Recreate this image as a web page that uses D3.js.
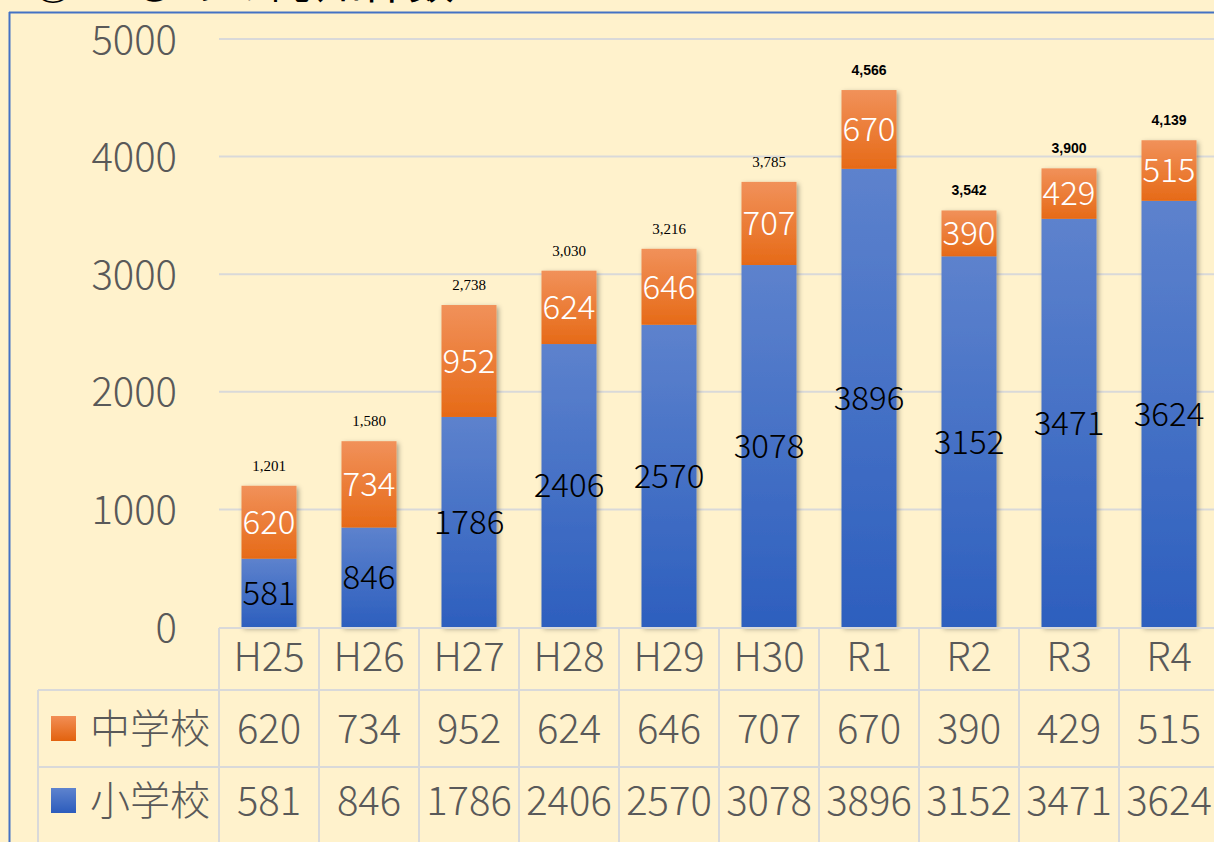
<!DOCTYPE html>
<html><head><meta charset="utf-8">
<script src="https://cdn.jsdelivr.net/npm/d3@7"></script>
<style>
html,body{margin:0;padding:0;background:#FFF2CC;}
svg{display:block;}
</style></head>
<body>
<script>
const categories = ["H25","H26","H27","H28","H29","H30","R1","R2","R3","R4"];
const juniorHigh = [620,734,952,624,646,707,670,390,429,515];   // 中学校
const elementary = [581,846,1786,2406,2570,3078,3896,3152,3471,3624]; // 小学校
const totals = [1201,1580,2738,3030,3216,3785,4566,3542,3900,4139];
const yTicks = [0,1000,2000,3000,4000,5000];
const seriesNames = ["中学校","小学校"];
const titleText = "① いじめの認知件数";

const W = 1214, H = 842;
const font = "'Noto Sans CJK JP','Noto Sans',sans-serif";
const FW = 300;
const svg = d3.select("body").append("svg").attr("width",W).attr("height",H);
const defs = svg.append("defs");
function grad(id, a, b){
  const g = defs.append("linearGradient").attr("id",id).attr("x1",0).attr("y1",0).attr("x2",0).attr("y2",1);
  g.append("stop").attr("offset","0%").attr("stop-color",a);
  g.append("stop").attr("offset","100%").attr("stop-color",b);
}
grad("gO","#F1915A","#E66A17");
grad("gB","#5D82CD","#2D5FBE");
grad("gOl","#F28E55","#E2620E");
grad("gBl","#5E83CE","#2C5CBC");
const sh = defs.append("filter").attr("id","sh").attr("x","-20%").attr("y","-10%").attr("width","150%").attr("height","130%");
sh.append("feDropShadow").attr("dx",2).attr("dy",2).attr("stdDeviation",2.5).attr("flood-color","#000").attr("flood-opacity",0.35);

// title (cut off at the top, as in the source image)
svg.append("text").attr("x",30).attr("y",-2).attr("font-family",font).attr("font-size",46)
  .attr("fill","#000").text(titleText);
svg.append("rect").attr("x",0).attr("y",12).attr("width",W).attr("height",H).attr("fill","#FFF2CC");
// frame
svg.append("line").attr("x1",9).attr("x2",W).attr("y1",12.5).attr("y2",12.5).attr("stroke","#4472C4").attr("stroke-width",2);
svg.append("line").attr("x1",9.5).attr("x2",9.5).attr("y1",12).attr("y2",H).attr("stroke","#4472C4").attr("stroke-width",2);

const x = d3.scaleBand().domain(categories).range([219,1219]).padding(0);
const y = d3.scaleLinear().domain([0,5000]).range([627,39]);
const barW = x.bandwidth()*0.55;

// gridlines
svg.append("g").selectAll("line").data(yTicks.filter(d=>d>0)).join("line")
  .attr("x1",219).attr("x2",W).attr("y1",d=>y(d)).attr("y2",d=>y(d))
  .attr("stroke","#D9D9D9").attr("stroke-width",2);

// y axis labels
const yAxis = d3.axisLeft(y).tickValues(yTicks).tickSize(0).tickPadding(0).tickFormat(d3.format("d"));
const yg = svg.append("g").attr("transform","translate(177,0)").call(yAxis);
yg.select(".domain").remove();
yg.selectAll("text").attr("font-family",font).attr("font-weight",FW).attr("font-size",40).attr("fill","#595959").attr("dy","0.35em");

// bars
const bars = svg.append("g");
categories.forEach((c,i)=>{
  const x0 = x(c)+(x.bandwidth()-barW)/2;
  const e = elementary[i], j = juniorHigh[i];
  const g = bars.append("g").attr("filter","url(#sh)");
  g.append("rect").attr("x",x0).attr("width",barW).attr("y",y(e)).attr("height",y(0)-y(e)).attr("fill","url(#gB)");
  g.append("rect").attr("x",x0).attr("width",barW).attr("y",y(e+j)).attr("height",y(e)-y(e+j)).attr("fill","url(#gO)");
});
// segment labels
const labels = svg.append("g").attr("font-family",font).attr("text-anchor","middle");
categories.forEach((c,i)=>{
  const cx = x(c)+x.bandwidth()/2;
  const e = elementary[i], j = juniorHigh[i];
  labels.append("text").attr("x",cx).attr("y",(y(0)+y(e))/2).attr("dy","0.36em")
    .attr("font-size",33).attr("font-weight",FW).attr("fill","#000").text(e);
  labels.append("text").attr("x",cx).attr("y",(y(e)+y(e+j))/2).attr("dy","0.36em")
    .attr("font-size",33).attr("font-weight",FW).attr("fill","#fff").text(j);
  const serif = i < 6;
  labels.append("text").attr("x",cx).attr("y",y(totals[i])-15)
    .attr("font-family", serif ? "'Liberation Serif','DejaVu Serif',serif" : "'Liberation Sans',Arial,sans-serif")
    .attr("font-weight", serif ? "normal" : "bold")
    .attr("font-size", serif ? 15 : 14).attr("fill","#000").text(d3.format(",")(totals[i]));
});

// data table
const tbl = svg.append("g").attr("stroke","#D9D9D9").attr("stroke-width",2);
const rowY = [627, 690, 767, H];
tbl.append("line").attr("x1",219).attr("x2",W).attr("y1",rowY[0]+1).attr("y2",rowY[0]+1);
tbl.append("line").attr("x1",38).attr("x2",W).attr("y1",rowY[1]).attr("y2",rowY[1]);
tbl.append("line").attr("x1",38).attr("x2",W).attr("y1",rowY[2]).attr("y2",rowY[2]);
tbl.append("line").attr("x1",38).attr("x2",38).attr("y1",rowY[1]).attr("y2",H);
tbl.selectAll(".v").data(categories).join("line").attr("class","v")
  .attr("x1",d=>x(d)).attr("x2",d=>x(d)).attr("y1",rowY[0]+1).attr("y2",H);

const xAxis = d3.axisBottom(x).tickSize(0).tickPadding(0);
const xg = svg.append("g").attr("transform",`translate(0,${(rowY[0]+rowY[1])/2-2})`).call(xAxis);
xg.select(".domain").remove();
xg.selectAll("text").attr("font-family",font).attr("font-weight",FW).attr("font-size",40).attr("fill","#595959").attr("dy","0.36em");

const rows = [juniorHigh, elementary];
const fills = ["url(#gOl)","url(#gBl)"];
rows.forEach((vals,r)=>{
  const cy = (rowY[r+1]+rowY[r+2])/2;
  const ty = r===1 ? cy - 4 : cy;
  svg.append("rect").attr("x",51).attr("y",ty-12.5).attr("width",25).attr("height",25).attr("fill",fills[r]);
  svg.append("text").attr("x",90).attr("y",ty).attr("dy","0.36em").attr("font-family",font).attr("font-weight",FW)
    .attr("font-size",40).attr("fill","#595959").text(seriesNames[r]);
  svg.append("g").selectAll("text").data(vals).join("text")
    .attr("x",(d,i)=>x(categories[i])+x.bandwidth()/2).attr("y",ty).attr("dy","0.36em")
    .attr("text-anchor","middle").attr("font-family",font).attr("font-weight",FW).attr("font-size",40).attr("fill","#595959")
    .text(d=>d);
});
</script>
</body></html>
